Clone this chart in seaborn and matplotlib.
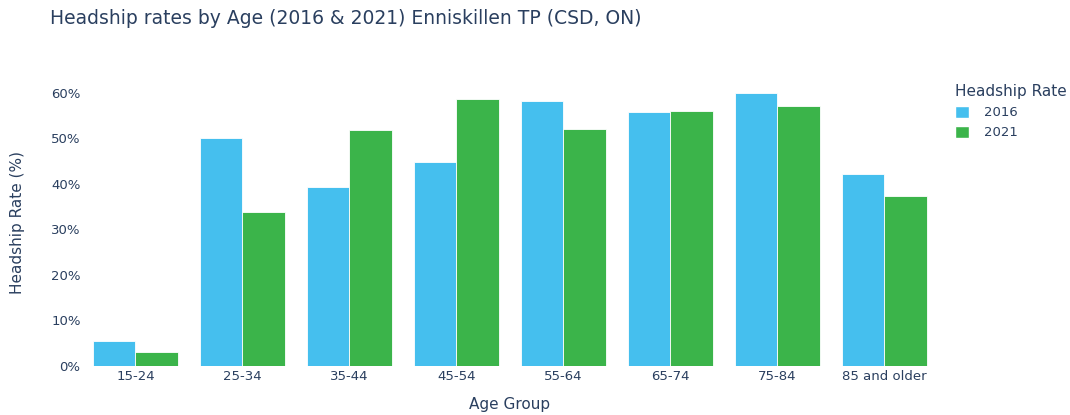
import matplotlib
matplotlib.use("Agg")
import matplotlib.pyplot as plt
import seaborn as sns
import pandas as pd
from matplotlib.ticker import FuncFormatter
from matplotlib.patches import Patch

age_groups = ["15-24", "25-34", "35-44", "45-54", "55-64", "65-74", "75-84", "85 and older"]
years = ["2016", "2021"]
rate_2016 = [5.6, 50.0, 39.2, 44.8, 58.1, 55.7, 60.0, 42.1]
rate_2021 = [3.1, 33.8, 51.7, 58.6, 51.9, 56.0, 57.1, 37.4]

df = pd.DataFrame({
    "Age Group": age_groups * 2,
    "Year": [years[0]] * len(age_groups) + [years[1]] * len(age_groups),
    "Rate": rate_2016 + rate_2021,
})

sns.set_theme(style="white")
plt.rcParams["font.family"] = ["DejaVu Sans"]

text_color = "#2a3f5f"
palette = {"2016": "#45bfee", "2021": "#3bb44a"}

fig = plt.figure(figsize=(10.7, 4.15), dpi=100)
ax = fig.add_axes([0.0766, 0.118, 0.80, 0.692])

sns.barplot(data=df, x="Age Group", y="Rate", hue="Year", order=age_groups,
            hue_order=years, palette=palette, width=0.8, edgecolor="white",
            linewidth=0.6, saturation=1, ax=ax, legend=False)

ax.set_xlim(-0.5, len(age_groups) - 0.5)
ax.set_ylim(0, 63)
ax.set_yticks(range(0, 61, 10))
ax.yaxis.set_major_formatter(FuncFormatter(lambda v, _: f"{v:.0f}%"))
for s in ax.spines.values():
    s.set_visible(False)
ax.tick_params(axis="both", length=0, labelsize=9.5, labelcolor=text_color)
ax.tick_params(axis="x", pad=3)
ax.tick_params(axis="y", pad=1)
ax.set_xlabel("Age Group", fontsize=11, color=text_color, labelpad=10)
ax.set_ylabel("Headship Rate (%)", fontsize=11, color=text_color, labelpad=19)
ax.grid(False)

fig.text(0.047, 0.955, "Headship rates by Age (2016 & 2021) Enniskillen TP (CSD, ON)",
         fontsize=13.5, color=text_color, ha="left", va="center")

# Legend for the two census years
handles = [Patch(facecolor=palette[y], edgecolor="white", label=y) for y in years]
leg = fig.legend(handles=handles, title="Headship Rate", loc="upper left",
                 bbox_to_anchor=(0.888, 0.81), frameon=False, fontsize=9.5,
                 title_fontsize=11, handlelength=1.0, handleheight=1.0,
                 handletextpad=1.2, labelspacing=0.5, borderaxespad=0)
leg.get_title().set_color(text_color)
leg._legend_box.align = "left"
for t in leg.get_texts():
    t.set_color(text_color)

fig.savefig("out.png", dpi=100, facecolor="white")
